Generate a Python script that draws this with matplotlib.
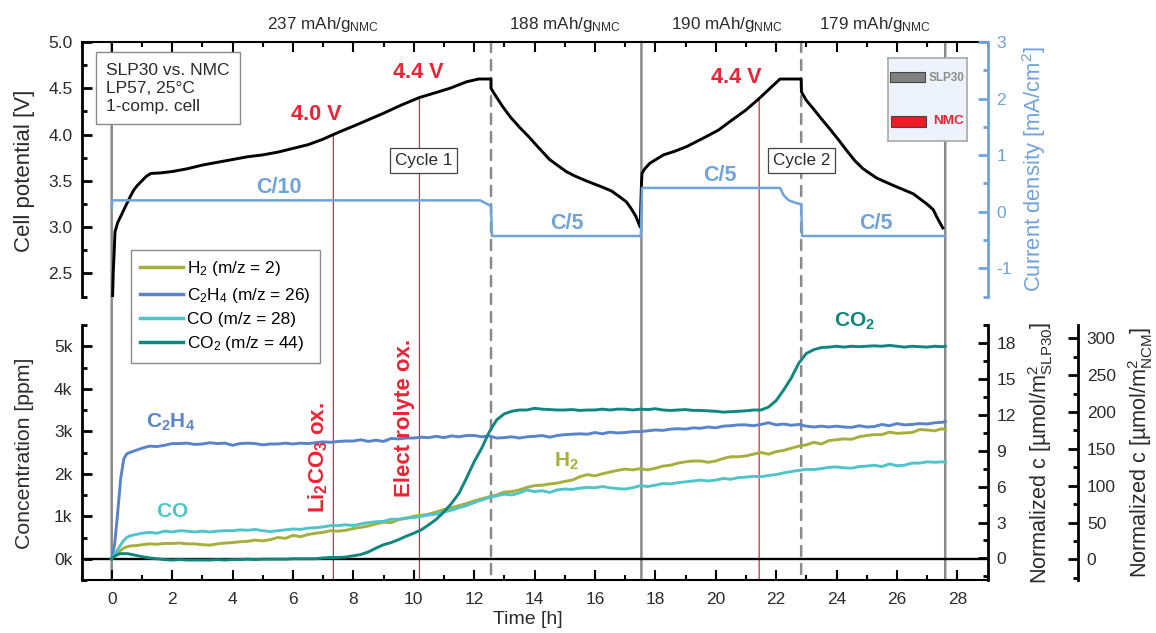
import numpy as np
import matplotlib
matplotlib.use('Agg')
import matplotlib.pyplot as plt
from matplotlib.patches import ConnectionPatch, Rectangle
from matplotlib.ticker import MultipleLocator

# cell potential [V] vs time [h]
t_volt = [0.03, 0.05, 0.08, 0.11, 0.2, 0.29, 0.45, 0.6, 0.73, 0.85, 1.0, 1.15, 1.3, 1.6, 2.0, 2.5, 3.0, 3.5, 4.0, 4.5,
          5.0, 5.5, 6.0, 6.5, 7.0, 7.34, 7.7, 8.0, 8.5, 9.0, 9.6, 10.19, 10.7, 11.2, 11.75, 12.15, 12.56, 12.56,
          12.65, 12.95, 13.2, 13.5, 13.8, 14.06, 14.5, 14.75, 15.05, 15.35, 15.71, 16.26, 16.55, 16.81, 17.05, 17.2,
          17.35, 17.5, 17.54, 17.56, 17.65, 17.82, 18.27, 18.65, 19.04, 19.7, 20.1, 20.47, 21.02, 21.44, 21.8, 22.13,
          22.83, 22.84, 23.0, 23.23, 23.5, 23.78, 24.05, 24.33, 24.6, 24.88, 25.33, 25.88, 26.54, 26.99, 27.2, 27.32,
          27.52]
volt = [2.25, 2.5, 2.72, 2.95, 3.05, 3.11, 3.22, 3.32, 3.4, 3.45, 3.5, 3.55, 3.58, 3.585, 3.6, 3.63, 3.67, 3.7, 3.73, 3.76,
        3.78, 3.81, 3.85, 3.89, 3.95, 4.0, 4.05, 4.09, 4.16, 4.23, 4.32, 4.4, 4.45, 4.5, 4.57, 4.6, 4.6, 4.5,
        4.45, 4.3, 4.19, 4.08, 3.98, 3.885, 3.73, 3.67, 3.6, 3.55, 3.5, 3.43, 3.39, 3.33, 3.27, 3.2,
        3.12, 3.0, 3.45, 3.58, 3.63, 3.69, 3.78, 3.82, 3.87, 3.98, 4.05, 4.14, 4.27, 4.39, 4.5, 4.6,
        4.6, 4.46, 4.37, 4.28, 4.17, 4.06, 3.95, 3.83, 3.72, 3.63, 3.53, 3.45, 3.36, 3.25, 3.19, 3.11, 2.99]

# current density [mA/cm2]
t_curr = [0.0, 0.02, 12.2, 12.56, 12.59, 17.52, 17.56, 22.13, 22.25, 22.42, 22.65, 22.83, 22.86, 27.6]
curr = [0.07, 0.2, 0.2, 0.1, -0.43, -0.43, 0.42, 0.42, 0.29, 0.2, 0.155, 0.13, -0.43, -0.43]

# gas concentrations [k ppm]
t_gas = np.concatenate([[0, .1, .2, .3, .4, .5, .6, .8], np.arange(1, 27.51, .25), [27.6]])
h2 = [0, .07, .14, .2, .25, .28, .3, .31,
      .33, .35, .34, .36, .36, .37, .35, .35, .33, .32, .35, .37, .38, .4, .41, .44,
      .42, .45, .5, .48, .55, .52, .57, .6, .62, .66, .65, .67, .71, .74, .77, .82,
      .86, .85, .92, .95, 1.0, 1.02, 1.05, 1.1, 1.16, 1.2, 1.25, 1.3, 1.36, 1.41, 1.46, 1.5,
      1.57, 1.58, 1.62, 1.68, 1.72, 1.73, 1.76, 1.78, 1.82, 1.85, 1.93, 1.98, 1.95, 2.0, 2.04, 2.08,
      2.11, 2.09, 2.12, 2.09, 2.13, 2.18, 2.2, 2.25, 2.28, 2.3, 2.3, 2.27, 2.3, 2.36, 2.4, 2.4,
      2.42, 2.46, 2.5, 2.46, 2.52, 2.55, 2.6, 2.65, 2.68, 2.74, 2.7, 2.78, 2.8, 2.82, 2.81, 2.87,
      2.9, 2.92, 2.92, 2.98, 2.95, 2.96, 2.97, 3.04, 3.03, 3.01, 3.06, 3.03]
c2h4 = [0, .35, 1.1, 1.9, 2.35, 2.47, 2.5, 2.55,
        2.6, 2.65, 2.64, 2.67, 2.71, 2.71, 2.72, 2.69, 2.7, 2.73, 2.71, 2.72, 2.67, 2.71, 2.72, 2.71,
        2.68, 2.7, 2.7, 2.72, 2.7, 2.72, 2.71, 2.73, 2.75, 2.74, 2.76, 2.77, 2.77, 2.8, 2.76, 2.79,
        2.76, 2.83, 2.82, 2.84, 2.84, 2.86, 2.85, 2.88, 2.85, 2.89, 2.87, 2.9, 2.9, 2.87, 2.89, 2.84,
        2.85, 2.87, 2.84, 2.87, 2.88, 2.9, 2.86, 2.9, 2.92, 2.93, 2.94, 2.93, 2.97, 2.94, 2.98, 2.96,
        2.97, 2.99, 2.99, 3.01, 3.03, 3.02, 3.05, 3.06, 3.05, 3.08, 3.07, 3.1, 3.08, 3.12, 3.13, 3.15,
        3.15, 3.13, 3.16, 3.2, 3.15, 3.17, 3.14, 3.16, 3.12, 3.1, 3.12, 3.1, 3.12, 3.1, 3.09, 3.13,
        3.1, 3.11, 3.16, 3.13, 3.18, 3.15, 3.16, 3.18, 3.17, 3.2, 3.21, 3.23]
co = [0, .1, .22, .33, .43, .5, .54, .57,
      .6, .62, .6, .65, .63, .66, .65, .63, .65, .63, .65, .66, .66, .68, .67, .69,
      .66, .64, .66, .68, .7, .69, .72, .73, .75, .78, .78, .8, .78, .82, .85, .87,
      .88, .93, .93, .96, .97, 1.0, 1.03, 1.05, 1.1, 1.14, 1.2, 1.25, 1.32, 1.38, 1.44, 1.48,
      1.52, 1.5, 1.55, 1.62, 1.58, 1.6, 1.56, 1.62, 1.64, 1.63, 1.66, 1.68, 1.67, 1.7, 1.67, 1.65,
      1.64, 1.67, 1.72, 1.7, 1.73, 1.77, 1.76, 1.79, 1.81, 1.83, 1.85, 1.83, 1.85, 1.89, 1.87, 1.91,
      1.92, 1.94, 1.93, 1.96, 1.98, 2.02, 2.05, 2.08, 2.1, 2.1, 2.12, 2.15, 2.16, 2.14, 2.13, 2.17,
      2.18, 2.2, 2.17, 2.23, 2.19, 2.2, 2.25, 2.25, 2.28, 2.27, 2.28, 2.27]
co2 = [0, .06, .1, .12, .12, .12, .11, .08,
       .05, .02, 0, -.02, -.03, -.02, -.03, -.03, -.03, -.03, -.02, -.03, -.02, -.02, -.01, -.02,
       -.01, -.01, -.01, -.01, 0, 0, 0, 0, .02, .03, .03, .04, .07, .1, .16, .25,
       .33, .38, .45, .53, .6, .68, .8, .93, 1.1, 1.3, 1.54, 1.9, 2.28, 2.6, 2.98, 3.27,
       3.41, 3.47, 3.5, 3.5, 3.54, 3.52, 3.51, 3.5, 3.5, 3.51, 3.49, 3.5, 3.5, 3.52, 3.5, 3.52,
       3.52, 3.5, 3.52, 3.51, 3.53, 3.5, 3.49, 3.5, 3.51, 3.49, 3.49, 3.48, 3.47, 3.45, 3.46, 3.47,
       3.48, 3.5, 3.5, 3.57, 3.72, 3.97, 4.25, 4.6, 4.83, 4.92, 4.97, 4.98, 5.0, 4.98, 5.0, 4.99,
       5.0, 5.01, 5.0, 5.02, 5.0, 4.98, 5.0, 4.99, 4.98, 5.0, 4.99, 5.0]

gas_series = [h2, c2h4, co, co2]
gas_labels = ['H$_2$ (m/z = 2)', 'C$_2$H$_4$ (m/z = 26)', 'CO (m/z = 28)', 'CO$_2$ (m/z = 44)']
gas_colors = ['#A6AF3B', '#5A84C9', '#4FC5C9', '#108680']

solid_times = [0, 17.54, 27.6]
dashed_times = [12.56, 22.83]
red_times = [7.34, 10.19, 21.44]
red_volts = [4.0, 4.4, 4.39]
capacities = ['237 mAh/g$_{NMC}$', '188 mAh/g$_{NMC}$', '190 mAh/g$_{NMC}$', '179 mAh/g$_{NMC}$']

W, H = 1156, 633
BLUE = '#6FA3DC'
RED = '#EE2233'
GRAY = '#8A8A8A'
TXT = '#2B2B2B'

plt.rcParams['font.family'] = 'Liberation Sans'
plt.rcParams['mathtext.fontset'] = 'custom'
plt.rcParams['mathtext.rm'] = 'Liberation Sans'
plt.rcParams['mathtext.it'] = 'Liberation Sans:italic'
plt.rcParams['mathtext.bf'] = 'Liberation Sans:bold'
plt.rcParams['mathtext.default'] = 'regular'
plt.rcParams['axes.unicode_minus'] = False
plt.rcParams['font.size'] = 12


def px_axes(left, top, right, bottom):
    return [left / W, 1 - bottom / H, (right - left) / W, (bottom - top) / H]


def style_ticks(ax, which, major, minor, color='k', width=1.5):
    axis = ax.xaxis if which == 'x' else ax.yaxis
    axis.set_major_locator(MultipleLocator(major))
    axis.set_minor_locator(MultipleLocator(minor))
    ax.tick_params(axis=which, which='major', direction='in', length=7, width=width, color=color, pad=6.5)
    ax.tick_params(axis=which, which='minor', direction='in', length=3.8, width=width, color=color)


def right_axis(ax, lim, major, minor, color='k', color_lab=TXT):
    tw = ax.twinx()
    tw.set_ylim(*lim)
    tw.patch.set_visible(False)
    for s in ('left', 'top', 'bottom'):
        tw.spines[s].set_visible(False)
    tw.spines['right'].set_color(color)
    tw.spines['right'].set_linewidth(2)
    style_ticks(tw, 'y', major, minor, color=color, width=2)
    tw.tick_params(axis='y', which='major', labelsize=12.5, labelcolor=color_lab)
    return tw


fig = plt.figure(figsize=(W / 100, H / 100), dpi=100)
ax1 = fig.add_axes(px_axes(81.5, 42, 987.5, 296.5))
ax2 = fig.add_axes(px_axes(81.5, 325, 987.5, 580))
for ax in (ax1, ax2):
    ax.set_xlim(-1, 29)
    ax.patch.set_visible(False)
    style_ticks(ax, 'x', 2, 1)
    ax.spines['left'].set_linewidth(2)
    ax.spines['right'].set_visible(False)
ax1.spines['top'].set_linewidth(1.5)
ax1.spines['bottom'].set_visible(False)
ax2.spines['top'].set_visible(False)
ax2.spines['bottom'].set_linewidth(1.5)
ax1.xaxis.tick_top()
ax1.tick_params(axis='x', which='both', labeltop=False, labelbottom=False)
ax2.tick_params(axis='x', which='major', labelsize=12.5, labelcolor=TXT, pad=9)

# top panel
ax1.set_ylim(2.25, 5.0)
style_ticks(ax1, 'y', 0.5, 0.25, width=2)
ax1.tick_params(axis='y', which='major', labelsize=12.5, labelcolor=TXT)
ax1.plot(t_volt, volt, color='k', lw=2.1, solid_joinstyle='round', zorder=4)

ax1b = right_axis(ax1, (-1.5, 3), 1, 0.5, color=BLUE, color_lab=BLUE)
ax1b.plot(t_curr, curr, color=BLUE, lw=1.8, zorder=3)

# bottom panel
ax2.set_ylim(-0.5, 5.5)
style_ticks(ax2, 'y', 1, 0.5, width=2)
ax2.set_yticks(range(6))
ax2.set_yticklabels([f'{i}k' for i in range(6)])
ax2.tick_params(axis='y', which='major', labelsize=12.5, labelcolor=TXT)
ax2.axhline(0, color='k', lw=1.7, zorder=1)
handles = []
for vals, lab, col in zip(gas_series, gas_labels, gas_colors):
    line, = ax2.plot(t_gas, vals, color=col, lw=2.1, label=lab, zorder=3)
    handles.append(line)

ax2b = right_axis(ax2, (-1.8, 19.5), 3, 1.5)
ax2b.set_yticks(range(0, 19, 3))
ax2c = right_axis(ax2, (-28, 318), 50, 25)
ax2c.set_yticks(range(0, 301, 50))
ax2c.spines['right'].set_position(('outward', 65))

# vertical markers running through both panels, behind the axes
for x in solid_times:
    fig.add_artist(ConnectionPatch((x, 5.0), (x, -0.5), ax1.transData, ax2.transData, color=GRAY, lw=1.8, zorder=-1))
for x in dashed_times:
    fig.add_artist(ConnectionPatch((x, 5.0), (x, -0.5), ax1.transData, ax2.transData, color=GRAY, lw=1.8,
                                   linestyle=(0, (4.0, 3.2)), zorder=-1))
for x, v in zip(red_times, red_volts):
    fig.add_artist(ConnectionPatch((x, v), (x, -0.5), ax1.transData, ax2.transData, color=RED, lw=0.9, zorder=-1))

# annotations
ax1.text(-0.19, 4.5, 'SLP30 vs. NMC\nLP57, 25°C\n1-comp. cell', fontsize=12.5, color=TXT, va='center', ha='left',
         linespacing=1.25, zorder=6,
         bbox=dict(boxstyle='square,pad=0.6', fc='white', ec=GRAY, lw=1))
ax1.text(10.33, 3.72, 'Cycle 1', fontsize=12.3, color=TXT, va='center', ha='center', zorder=6,
         bbox=dict(boxstyle='square,pad=0.3', fc='white', ec='#444444', lw=0.9))
ax1.text(22.84, 3.72, 'Cycle 2', fontsize=12.3, color=TXT, va='center', ha='center', zorder=6,
         bbox=dict(boxstyle='square,pad=0.3', fc='white', ec='#444444', lw=0.9))
for x, y, s in [(6.76, 4.22, '4.0 V'), (10.14, 4.67, '4.4 V'), (20.67, 4.62, '4.4 V')]:
    ax1.text(x, y, s, color=RED, fontsize=15.5, fontweight='bold', ha='center', va='center', zorder=6)
for x, y, s in [(5.55, 3.43, 'C/10'), (15.07, 3.04, 'C/5'), (20.15, 3.56, 'C/5'), (25.3, 3.04, 'C/5')]:
    ax1.text(x, y, s, color=BLUE, fontsize=15.5, fontweight='bold', ha='center', va='center', zorder=6)

for x, y, s, col in [(1.94, 3.22, r'$\mathbf{C_2H_4}$', gas_colors[1]),
                     (2.0, 1.12, r'$\mathbf{CO}$', gas_colors[2]),
                     (15.06, 2.28, r'$\mathbf{H_2}$', gas_colors[0]),
                     (24.6, 5.59, r'$\mathbf{CO_2}$', gas_colors[3])]:
    ax2.text(x, y, s, color=col, fontsize=15, ha='center', va='center', zorder=6, clip_on=False)
ax2.text(6.85, 1.07, r'$\mathbf{Li_2CO_3}$ ox.', color=RED, fontsize=16, fontweight='bold', rotation=90,
         ha='center', va='bottom', zorder=6)
ax2.text(9.68, 1.45, 'Elect rolyte ox.', color=RED, fontsize=16, fontweight='bold', rotation=90,
         ha='center', va='bottom', zorder=6)

for px, s in zip([323, 565, 727, 875], capacities):
    fig.text(px / W, 1 - 24 / H, s, fontsize=12.3, color=TXT, ha='center', va='center')

leg = ax2.legend(handles, gas_labels, loc='upper left', bbox_to_anchor=(49.5 / 906, 1 + 75 / 255), fontsize=12.4,
                 frameon=True, fancybox=False, edgecolor=GRAY, framealpha=1, handlelength=2.47, handletextpad=0.25,
                 labelspacing=0.42, borderpad=0.55, borderaxespad=0)
leg.get_frame().set_linewidth(1)
leg.set_zorder(8)
for h in leg.legend_handles:
    h.set_linewidth(2.5)
ax2.set_zorder(3)
ax2b.set_zorder(2)
ax2c.set_zorder(2)
ax1b.set_zorder(2)

# axis titles
fig.text(25 / W, 1 - 171 / H, 'Cell potential [V]', rotation=90, fontsize=16, color=TXT, ha='center', va='center')
fig.text(25 / W, 1 - 453 / H, 'Concentration [ppm]', rotation=90, fontsize=15.3, color=TXT, ha='center', va='center')
fig.text(1034 / W, 1 - 169 / H, 'Current density [mA/cm$^2$]', rotation=90, fontsize=15.8, color=BLUE,
         ha='center', va='center')
fig.text(1041 / W, 1 - 453 / H, r'Normalized c [µmol/m$^2_{SLP30}$]', rotation=90, fontsize=15.6, color=TXT,
         ha='center', va='center')
fig.text(1141 / W, 1 - 452 / H, r'Normalized c [µmol/m$^2_{NCM}$]', rotation=90, fontsize=15.6, color=TXT,
         ha='center', va='center')
fig.text(528 / W, 1 - 620 / H, 'Time [h]', fontsize=14, color=TXT, ha='center', va='center')

# electrode sketch
ins = fig.add_axes(px_axes(887.7, 58.3, 967.3, 140.7))
ins.set_xlim(0, 79.6)
ins.set_ylim(82.4, 0)
ins.set_xticks([])
ins.set_yticks([])
ins.set_facecolor('#EEF3FB')
ins.set_zorder(6)
for s in ins.spines.values():
    s.set_color('#A8A8A8')
    s.set_linewidth(1.2)
ins.add_patch(Rectangle((2.3, 13.4), 35, 10.6, fc='#808080', ec='#444444', lw=0.8))
ins.add_patch(Rectangle((3, 57.4), 35.3, 11.3, fc='#EE1C25', ec='#444444', lw=0.8))
ins.text(59.3, 19.4, 'SLP30', color='#8C8C8C', fontsize=8.5, fontweight='bold', ha='center', va='center')
ins.text(61, 62.7, 'NMC', color=RED, fontsize=9.7, fontweight='bold', ha='center', va='center')

fig.savefig('out.png', dpi=100)
plt.close('all')
